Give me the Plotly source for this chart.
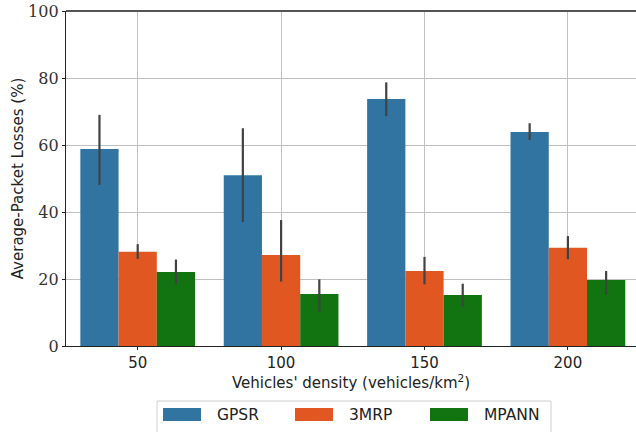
import plotly.graph_objects as go

densities = ["50", "100", "150", "200"]
series_names = ["GPSR", "3MRP", "MPANN"]
colors = ["#3274a1", "#e05722", "#117411"]

gpsr = [58.8, 51.0, 73.7, 63.9]
gpsr_hi = [69.0, 65.0, 78.7, 66.5]
gpsr_lo = [48.1, 37.0, 68.6, 61.5]

mrp = [28.1, 27.2, 22.4, 29.3]
mrp_hi = [30.4, 37.6, 26.6, 32.8]
mrp_lo = [26.0, 19.2, 18.4, 25.9]

mpann = [22.1, 15.5, 15.2, 19.7]
mpann_hi = [25.8, 19.9, 18.6, 22.4]
mpann_lo = [18.4, 10.2, 11.7, 15.3]

values = [gpsr, mrp, mpann]
his = [gpsr_hi, mrp_hi, mpann_hi]
los = [gpsr_lo, mrp_lo, mpann_lo]

xpos = list(range(len(densities)))

fig = go.Figure()
for name, col, v, hi, lo in zip(series_names, colors, values, his, los):
    fig.add_trace(go.Bar(
        x=xpos, y=v, name=name, marker_color=col, marker_line_width=0,
        error_y=dict(type="data", symmetric=False,
                     array=[h - a for h, a in zip(hi, v)],
                     arrayminus=[a - l for a, l in zip(v, lo)],
                     color="#424242", thickness=2.2, width=0),
        showlegend=False,
    ))

sans = "DejaVu Sans"
serif = "DejaVu Serif"

L, T, PW, PH = 66, 11, 570, 335

fig.update_layout(
    width=636, height=432,
    margin=dict(l=L, r=0, t=T, b=432 - T - PH),
    paper_bgcolor="white", plot_bgcolor="white",
    barmode="group", bargap=0.2, bargroupgap=0,
    xaxis=dict(
        tickmode="array", tickvals=xpos, ticktext=densities,
        range=[-0.5, 3.475], automargin=False,
        showgrid=True, gridcolor="#c0c0c0", gridwidth=1,
        showline=True, linecolor="#222222", linewidth=1.3,
        ticks="outside", ticklen=3, tickcolor="#222222",
        tickfont=dict(family=sans, size=15, color="#222222"),
        title=dict(text="Vehicles' density (vehicles/km<sup>2</sup>)",
                   font=dict(family=sans, size=15, color="#222222"), standoff=6),
        layer="above traces", zeroline=False,
    ),
    yaxis=dict(
        range=[0, 100], tickvals=[0, 20, 40, 60, 80, 100], automargin=False,
        showgrid=True, gridcolor="#c0c0c0", gridwidth=1,
        showline=True, linecolor="#222222", linewidth=1.3,
        ticks="outside", ticklen=3, tickcolor="#222222",
        tickfont=dict(family=serif, size=16, color="#333333"),
        title=dict(text="Average-Packet Losses (%)",
                   font=dict(family=sans, size=15, color="#222222"), standoff=0),
        layer="above traces", zeroline=False,
    ),
)

# top spine
fig.add_shape(type="line", xref="paper", yref="paper", x0=0, x1=1, y0=1, y1=1,
              line=dict(color="#555555", width=2))

def px(x):
    return (x - L) / PW

def py(y):
    return (T + PH - y) / PH

# custom legend (wide swatches like the reference)
fig.add_shape(type="rect", xref="paper", yref="paper",
              x0=px(157), x1=px(551), y0=py(436), y1=py(401),
              line=dict(color="#d0d0d0", width=1), fillcolor="white", layer="above")
sw_x = [163, 295, 430]
tx_x = [215, 347, 482]
for name, col, sx, tx in zip(series_names, colors, sw_x, tx_x):
    fig.add_shape(type="rect", xref="paper", yref="paper",
                  x0=px(sx), x1=px(sx + 38), y0=py(421), y1=py(408),
                  line=dict(width=0), fillcolor=col, layer="above")
    fig.add_annotation(xref="paper", yref="paper", x=px(tx), y=py(414.5),
                       text=name, showarrow=False, xanchor="left", yanchor="middle",
                       font=dict(family=sans, size=15.5, color="#222222"))

fig.write_html("out.html", config={"displayModeBar": False},
               post_script="document.body.style.margin='0';document.body.style.overflow='hidden';")
